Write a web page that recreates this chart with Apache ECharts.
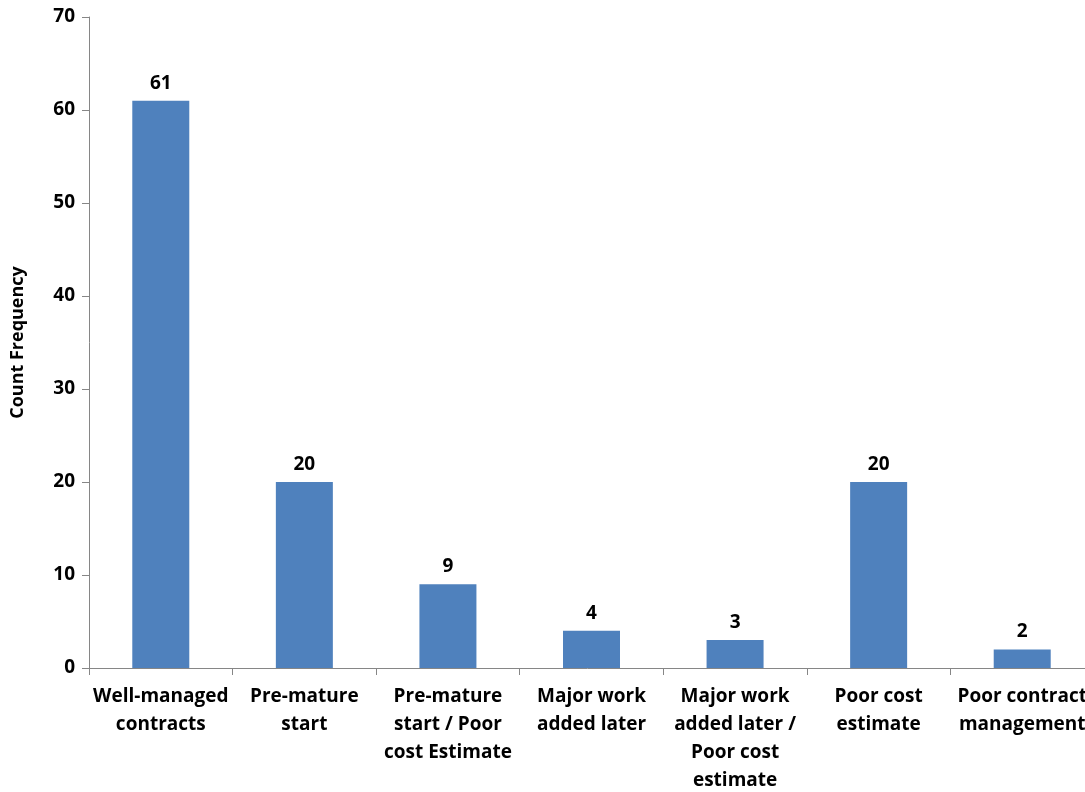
<!DOCTYPE html>
<html>
<head>
<meta charset="utf-8">
<script src="https://cdn.jsdelivr.net/npm/echarts@6/dist/echarts.min.js"></script>
<style>html,body{margin:0;padding:0;background:#fff}#c{width:1085px;height:792px}</style>
</head>
<body>
<div id="c"></div>
<script>
const categories = ["Well-managed\ncontracts", "Pre-mature\nstart", "Pre-mature\nstart / Poor\ncost Estimate", "Major work\nadded later", "Major work\nadded later /\nPoor cost\nestimate", "Poor cost\nestimate", "Poor contract\nmanagement"];
const counts = [61, 20, 9, 4, 3, 20, 2];
const yTicks = { min: 0, max: 70, interval: 10 };
const yTitle = "Count Frequency";

const FONT = "'Open Sans', Lato, sans-serif";
const chart = echarts.init(document.getElementById('c'), null, {renderer: 'canvas'});
chart.setOption({
  animation: false,
  backgroundColor: '#fff',
  grid: { left: 89, top: 17, bottom: 124, right: -9, containLabel: false, outerBoundsMode: 'none' },
  xAxis: {
    type: 'category',
    data: categories,
    axisLine: { lineStyle: { color: '#868686', width: 1 } },
    axisTick: { show: true, alignWithLabel: false, length: 7, lineStyle: { color: '#868686' } },
    axisLabel: { interval: 0, color: '#000', fontFamily: FONT, fontWeight: 'bold', fontSize: 19, lineHeight: 28, margin: 15 }
  },
  yAxis: {
    type: 'value',
    min: yTicks.min, max: yTicks.max, interval: yTicks.interval,
    name: yTitle,
    nameLocation: 'middle',
    nameGap: 62,
    nameRotate: 90,
    nameTextStyle: { color: '#000', fontFamily: FONT, fontWeight: 'bold', fontSize: 18 },
    axisLine: { show: true, lineStyle: { color: '#868686', width: 1 } },
    axisTick: { show: true, length: 7, lineStyle: { color: '#868686' } },
    splitLine: { show: false },
    axisLabel: { color: '#000', fontFamily: FONT, fontWeight: 'bold', fontSize: 19, margin: 14 }
  },
  series: [{
    type: 'bar',
    data: counts,
    barWidth: 57,
    itemStyle: { color: '#4F81BD' },
    label: { show: true, position: 'top', distance: 8, color: '#000', fontFamily: FONT, fontWeight: 'bold', fontSize: 19 }
  }]
});
</script>
</body>
</html>
